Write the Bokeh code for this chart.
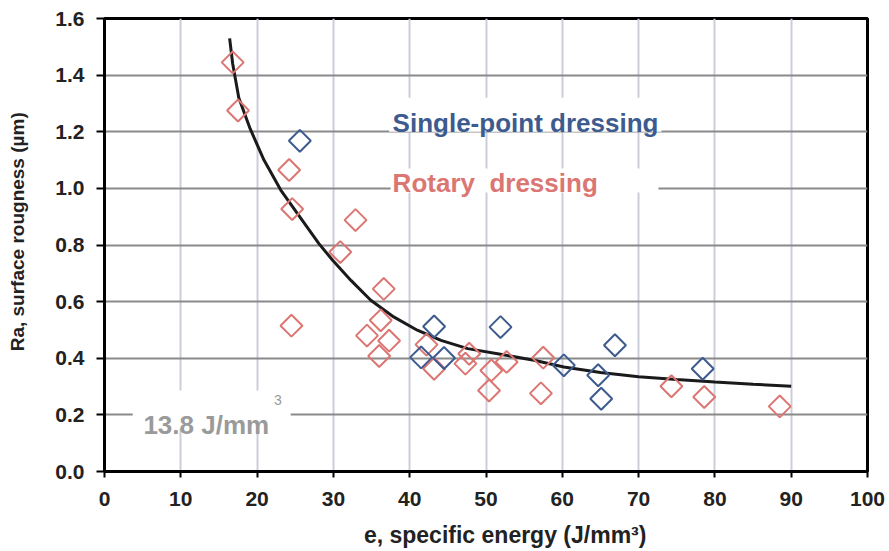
from bokeh.plotting import figure
from bokeh.models import Label, BoxAnnotation, FixedTicker, CustomJSTickFormatter
from bokeh.embed import file_html
from bokeh.resources import INLINE

# --- data ---
rotary_e = [16.8, 17.5, 24.2, 24.6, 24.5, 32.9, 30.9, 36.6, 36.2, 34.4, 37.3, 36.0,
            42.2, 43.2, 47.8, 47.3, 52.7, 50.7, 50.4, 57.5, 57.2, 74.3, 78.6, 88.5]
rotary_ra = [1.445, 1.275, 1.065, 0.927, 0.515, 0.888, 0.775, 0.645, 0.534, 0.480, 0.462, 0.408,
             0.448, 0.363, 0.416, 0.381, 0.387, 0.357, 0.286, 0.402, 0.276, 0.301, 0.263, 0.230]

single_e = [25.6, 43.2, 41.5, 44.5, 51.9, 60.2, 64.7, 65.1, 66.9, 78.4]
single_ra = [1.168, 0.512, 0.403, 0.401, 0.510, 0.375, 0.340, 0.257, 0.446, 0.363]

fit_e = [16.4, 16.8, 17.6, 19.1, 20.9, 23.1, 25.9, 28.1, 29.9, 32.3, 34.9, 37.9,
         41.0, 44.1, 47.6, 51.9, 56.3, 60.2, 65.0, 70.0, 75.0, 80.0, 85.0, 90.0]
fit_ra = [1.53, 1.44, 1.32, 1.21, 1.10, 0.994, 0.888, 0.805, 0.746, 0.675, 0.605, 0.546,
          0.499, 0.463, 0.434, 0.414, 0.393, 0.369, 0.350, 0.335, 0.325, 0.316, 0.308, 0.301]

x_ticks = [0, 10, 20, 30, 40, 50, 60, 70, 80, 90, 100]
y_ticks = [0.0, 0.2, 0.4, 0.6, 0.8, 1.0, 1.2, 1.4, 1.6]

x_title = "e, specific energy (J/mm³)"
y_title = "Ra, surface rougness (µm)"

BLUE = "#3d5b8e"
RED = "#db7673"
GRAY = "#9a9a9a"
DARK = "#222222"
FONT = "Liberation Sans"
NB = "\u00a0"

p = figure(width=885, height=551, frame_width=763, frame_height=453,
           x_range=(0, 100), y_range=(0, 1.6),
           output_backend="svg", toolbar_location=None,
           min_border_left=104, min_border_right=18, min_border_top=18, min_border_bottom=80)

p.background_fill_color = "white"
p.border_fill_color = "white"
p.outline_line_color = "black"
p.outline_line_width = 3

# grids
p.xgrid.ticker = FixedTicker(ticks=x_ticks)
p.ygrid.ticker = FixedTicker(ticks=y_ticks)
p.xgrid.grid_line_color = "#cdcdda"
p.xgrid.grid_line_width = 2
p.ygrid.grid_line_color = "#8a8a8a"
p.ygrid.grid_line_width = 2

# axes
p.xaxis.ticker = FixedTicker(ticks=x_ticks)
p.yaxis.ticker = FixedTicker(ticks=y_ticks)
p.yaxis.formatter = CustomJSTickFormatter(code="return tick.toFixed(1);")
for ax in (p.xaxis, p.yaxis):
    ax.axis_line_color = "black"
    ax.axis_line_width = 3
    ax.major_tick_line_color = "black"
    ax.major_tick_line_width = 2
    ax.major_tick_in = 0
    ax.minor_tick_line_color = None
    ax.major_label_text_font = FONT
    ax.major_label_text_font_style = "bold"
    ax.major_label_text_font_size = "21px"
    ax.major_label_text_color = DARK
    ax.axis_label_text_font = FONT
    ax.axis_label_text_font_style = "bold"
    ax.axis_label_text_color = DARK
p.xaxis.major_tick_out = 6
p.yaxis.major_tick_out = 8
p.xaxis.major_label_standoff = 14
p.yaxis.major_label_standoff = 12
# leading no-break spaces shift the centred titles slightly, as in the reference
p.xaxis.axis_label = NB * 6 + x_title
p.yaxis.axis_label = NB * 5 + y_title
p.xaxis.axis_label_text_font_size = "23px"
p.yaxis.axis_label_text_font_size = "19px"
p.xaxis.axis_label_standoff = 13
p.yaxis.axis_label_standoff = 24

# white boxes behind the texts
for l, r, b, t in [(37.3, 73.0, 1.20, 1.32), (37.5, 72.6, 0.985, 1.07), (3.7, 24.4, 0.152, 0.286)]:
    p.add_layout(BoxAnnotation(left=l, right=r, bottom=b, top=t,
                               fill_color="white", fill_alpha=1.0, line_color=None,
                               level="underlay"))

# fitted curve
p.line(fit_e, fit_ra, line_color="#1a1a1a", line_width=3)

# points
p.scatter(rotary_e, rotary_ra, marker="square", angle=0.785398, size=15.5,
          fill_color=None, line_color=RED, line_width=2)
p.scatter(single_e, single_ra, marker="square", angle=0.785398, size=15.5,
          fill_color=None, line_color=BLUE, line_width=2)

# texts
p.add_layout(Label(x=37.76, y=1.2297, text="Single-point dressing", text_color=BLUE,
                   text_font=FONT, text_font_style="bold", text_font_size="26px",
                   text_baseline="alphabetic"))
p.add_layout(Label(x=37.76, y=1.0175, text="Rotary" + NB + " dressing", text_color=RED,
                   text_font=FONT, text_font_style="bold", text_font_size="26px",
                   text_baseline="alphabetic"))
p.add_layout(Label(x=5.1, y=0.166, text="13.8 J/mm", text_color=GRAY,
                   text_font=FONT, text_font_style="bold", text_font_size="26px",
                   text_baseline="alphabetic"))
p.add_layout(Label(x=22.2, y=0.251, text="3", text_color=GRAY,
                   text_font=FONT, text_font_size="14px",
                   text_baseline="alphabetic"))

open("out.html", "w").write(file_html(p, INLINE))
